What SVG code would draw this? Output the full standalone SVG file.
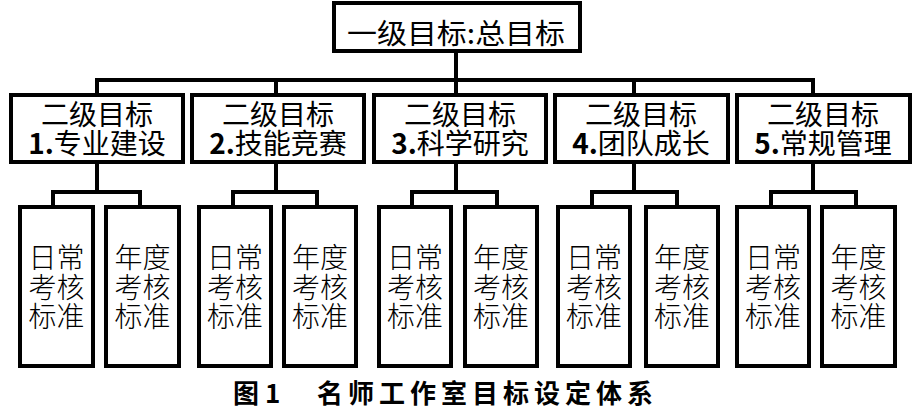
<svg xmlns="http://www.w3.org/2000/svg" width="918" height="409" viewBox="0 0 918 409">
<style>
.box{fill:#fff;stroke:#000;stroke-width:4}
.con{fill:none;stroke:#000;stroke-width:4;stroke-linecap:square;stroke-linejoin:miter}
text{font-family:"Noto Sans CJK SC","Noto Sans",sans-serif;fill:#000;text-anchor:middle}
.t1{font-size:28px}
.t2{font-size:28px}
.t3{font-size:28px;font-weight:300}
.b{font-weight:bold}
.cap{font-size:26px;font-weight:bold;text-anchor:start}
</style>
<rect width="918" height="409" fill="#fff"/>
<g id="connectors">
<path class="con" d="M456 51V80M97 80H813M97 80V93M276 80V93M456 80V93M634 80V93M813 80V93"/>
<path class="con" d="M97 164V192M53 192H140M53 192V205M140 192V205"/>
<path class="con" d="M276 164V192M233 192H317M233 192V205M317 192V205"/>
<path class="con" d="M456 164V192M412 192H497M412 192V205M497 192V205"/>
<path class="con" d="M634 164V192M592 192H677M592 192V205M677 192V205"/>
<path class="con" d="M813 164V192M771 192H856M771 192V205M856 192V205"/>
</g>
<g id="root">
<rect class="box" x="334" y="3" width="246" height="48"/>
<text class="t1" x="456" y="44" textLength="218" lengthAdjust="spacingAndGlyphs">一级目标:总目标</text>
</g>
<g id="g1">
<rect class="box" x="11" y="95" width="172" height="67"/>
<text class="t2" x="97" y="125">二级目标<tspan x="97" dy="29"><tspan class="b">1.</tspan>专业建设</tspan></text>
</g>
<g id="g2">
<rect class="box" x="192" y="95" width="172" height="67"/>
<text class="t2" x="278" y="125">二级目标<tspan x="278" dy="29"><tspan class="b">2.</tspan>技能竞赛</tspan></text>
</g>
<g id="g3">
<rect class="box" x="374" y="95" width="172" height="67"/>
<text class="t2" x="460" y="125">二级目标<tspan x="460" dy="29"><tspan class="b">3.</tspan>科学研究</tspan></text>
</g>
<g id="g4">
<rect class="box" x="555" y="95" width="173" height="67"/>
<text class="t2" x="641" y="125">二级目标<tspan x="641" dy="29"><tspan class="b">4.</tspan>团队成长</tspan></text>
</g>
<g id="g5">
<rect class="box" x="737" y="95" width="173" height="67"/>
<text class="t2" x="823" y="125">二级目标<tspan x="823" dy="29"><tspan class="b">5.</tspan>常规管理</tspan></text>
</g>
<g id="g1a"><rect class="box" x="20" y="207" width="73" height="159"/>
<text class="t3" x="56.5" y="268">日常<tspan x="56.5" dy="30">考核</tspan><tspan x="56.5" dy="29">标准</tspan></text></g>
<g id="g1b"><rect class="box" x="106" y="207" width="73" height="159"/>
<text class="t3" x="142.5" y="268">年度<tspan x="142.5" dy="30">考核</tspan><tspan x="142.5" dy="29">标准</tspan></text></g>
<g id="g2a"><rect class="box" x="199" y="207" width="72" height="159"/>
<text class="t3" x="235" y="268">日常<tspan x="235" dy="30">考核</tspan><tspan x="235" dy="29">标准</tspan></text></g>
<g id="g2b"><rect class="box" x="284" y="207" width="72" height="159"/>
<text class="t3" x="320" y="268">年度<tspan x="320" dy="30">考核</tspan><tspan x="320" dy="29">标准</tspan></text></g>
<g id="g3a"><rect class="box" x="379" y="207" width="72" height="159"/>
<text class="t3" x="415" y="268">日常<tspan x="415" dy="30">考核</tspan><tspan x="415" dy="29">标准</tspan></text></g>
<g id="g3b"><rect class="box" x="465" y="207" width="72" height="159"/>
<text class="t3" x="501" y="268">年度<tspan x="501" dy="30">考核</tspan><tspan x="501" dy="29">标准</tspan></text></g>
<g id="g4a"><rect class="box" x="558" y="207" width="72" height="159"/>
<text class="t3" x="594" y="268">日常<tspan x="594" dy="30">考核</tspan><tspan x="594" dy="29">标准</tspan></text></g>
<g id="g4b"><rect class="box" x="646" y="207" width="72" height="159"/>
<text class="t3" x="682" y="268">年度<tspan x="682" dy="30">考核</tspan><tspan x="682" dy="29">标准</tspan></text></g>
<g id="g5a"><rect class="box" x="737" y="207" width="72" height="159"/>
<text class="t3" x="773" y="268">日常<tspan x="773" dy="30">考核</tspan><tspan x="773" dy="29">标准</tspan></text></g>
<g id="g5b"><rect class="box" x="822" y="207" width="73" height="159"/>
<text class="t3" x="858.5" y="268">年度<tspan x="858.5" dy="30">考核</tspan><tspan x="858.5" dy="29">标准</tspan></text></g>
<g id="caption">
<text class="cap" x="233" y="403">图 1</text>
<text class="cap" x="317" y="403" textLength="336" lengthAdjust="spacing">名师工作室目标设定体系</text>
</g>
</svg>
